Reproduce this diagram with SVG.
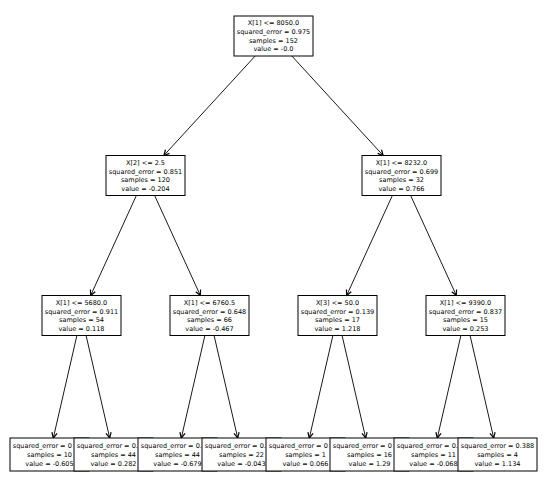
<svg xmlns="http://www.w3.org/2000/svg" width="550" height="477" viewBox="0 0 550 477">
<style>
.box{fill:#ffffff;stroke:#000000;stroke-width:1}
.t{font-family:"DejaVu Sans",sans-serif;font-size:6.5px;fill:#000000;text-anchor:middle}
.s{text-anchor:start}
.e{fill:none;stroke:#000000;stroke-width:0.9;marker-end:url(#ah)}
</style>
<defs>
<marker id="ah" markerUnits="userSpaceOnUse" markerWidth="8" markerHeight="8" viewBox="-5 -3 6 6" refX="0" refY="0" orient="auto">
<path d="M-4,-2 L0,0 L-4,2" fill="none" stroke="#000000" stroke-width="0.9"/>
</marker>
</defs>
<rect width="550" height="477" fill="#ffffff"/>
<g id="connectors">
<line class="e" x1="255.15" y1="56" x2="163.85" y2="155.5"/>
<line class="e" x1="291.85" y1="56" x2="383.15" y2="155.5"/>
<line class="e" x1="136.36" y1="195.5" x2="90.64" y2="295.5"/>
<line class="e" x1="154.64" y1="195.5" x2="200.36" y2="295.5"/>
<line class="e" x1="392.36" y1="195.5" x2="346.64" y2="295.5"/>
<line class="e" x1="410.64" y1="195.5" x2="456.36" y2="295.5"/>
<line class="e" x1="76.9" y1="335.5" x2="53.3" y2="438"/>
<line class="e" x1="86.1" y1="335.5" x2="109.7" y2="438"/>
<line class="e" x1="204.9" y1="335.5" x2="181.3" y2="438"/>
<line class="e" x1="214.1" y1="335.5" x2="237.7" y2="438"/>
<line class="e" x1="332.9" y1="335.5" x2="309.3" y2="438"/>
<line class="e" x1="342.1" y1="335.5" x2="365.7" y2="438"/>
<line class="e" x1="460.9" y1="335.5" x2="437.3" y2="438"/>
<line class="e" x1="470.1" y1="335.5" x2="493.7" y2="438"/>
</g>
<g id="n0">
<rect class="box" x="234" y="16" width="79" height="40"/>
<text class="t" x="273.5" y="25.3">X[1] &lt;= 8050.0</text>
<text class="t" x="273.5" y="34">squared_error = 0.975</text>
<text class="t" x="273.5" y="42.7">samples = 152</text>
<text class="t" x="273.5" y="51.4">value = -0.0</text>
</g>
<g id="n1">
<rect class="box" x="106" y="155.5" width="79" height="40"/>
<text class="t" x="145.5" y="164.8">X[2] &lt;= 2.5</text>
<text class="t" x="145.5" y="173.5">squared_error = 0.851</text>
<text class="t" x="145.5" y="182.2">samples = 120</text>
<text class="t" x="145.5" y="190.9">value = -0.204</text>
</g>
<g id="n8">
<rect class="box" x="362" y="155.5" width="79" height="40"/>
<text class="t" x="401.5" y="164.8">X[1] &lt;= 8232.0</text>
<text class="t" x="401.5" y="173.5">squared_error = 0.699</text>
<text class="t" x="401.5" y="182.2">samples = 32</text>
<text class="t" x="401.5" y="190.9">value = 0.766</text>
</g>
<g id="n2">
<rect class="box" x="42" y="295.5" width="79" height="40"/>
<text class="t" x="81.5" y="304.8">X[1] &lt;= 5680.0</text>
<text class="t" x="81.5" y="313.5">squared_error = 0.911</text>
<text class="t" x="81.5" y="322.2">samples = 54</text>
<text class="t" x="81.5" y="330.9">value = 0.118</text>
</g>
<g id="n5">
<rect class="box" x="170" y="295.5" width="79" height="40"/>
<text class="t" x="209.5" y="304.8">X[1] &lt;= 6760.5</text>
<text class="t" x="209.5" y="313.5">squared_error = 0.648</text>
<text class="t" x="209.5" y="322.2">samples = 66</text>
<text class="t" x="209.5" y="330.9">value = -0.467</text>
</g>
<g id="n9">
<rect class="box" x="298" y="295.5" width="79" height="40"/>
<text class="t" x="337.5" y="304.8">X[3] &lt;= 50.0</text>
<text class="t" x="337.5" y="313.5">squared_error = 0.139</text>
<text class="t" x="337.5" y="322.2">samples = 17</text>
<text class="t" x="337.5" y="330.9">value = 1.218</text>
</g>
<g id="n12">
<rect class="box" x="426" y="295.5" width="79" height="40"/>
<text class="t" x="465.5" y="304.8">X[1] &lt;= 9390.0</text>
<text class="t" x="465.5" y="313.5">squared_error = 0.837</text>
<text class="t" x="465.5" y="322.2">samples = 15</text>
<text class="t" x="465.5" y="330.9">value = 0.253</text>
</g>
<g id="n3">
<rect class="box" x="10" y="438" width="79" height="33"/>
<text class="t s" x="12.8" y="448.2">squared_error = 0</text>
<text class="t" x="49.5" y="456.9">samples = 10</text>
<text class="t" x="49.5" y="465.6">value = -0.605</text>
</g>
<g id="n4">
<rect class="box" x="74" y="438" width="79" height="33"/>
<text class="t s" x="76.8" y="448.2">squared_error = 0.</text>
<text class="t" x="113.5" y="456.9">samples = 44</text>
<text class="t" x="113.5" y="465.6">value = 0.282</text>
</g>
<g id="n6">
<rect class="box" x="138" y="438" width="79" height="33"/>
<text class="t s" x="140.8" y="448.2">squared_error = 0.6</text>
<text class="t" x="177.5" y="456.9">samples = 44</text>
<text class="t" x="177.5" y="465.6">value = -0.679</text>
</g>
<g id="n7">
<rect class="box" x="202" y="438" width="79" height="33"/>
<text class="t s" x="204.8" y="448.2">squared_error = 0.3</text>
<text class="t" x="241.5" y="456.9">samples = 22</text>
<text class="t" x="241.5" y="465.6">value = -0.043</text>
</g>
<g id="n10">
<rect class="box" x="266" y="438" width="79" height="33"/>
<text class="t s" x="268.8" y="448.2">squared_error = 0</text>
<text class="t" x="305.5" y="456.9">samples = 1</text>
<text class="t" x="305.5" y="465.6">value = 0.066</text>
</g>
<g id="n11">
<rect class="box" x="330" y="438" width="79" height="33"/>
<text class="t s" x="332.8" y="448.2">squared_error = 0</text>
<text class="t" x="369.5" y="456.9">samples = 16</text>
<text class="t" x="369.5" y="465.6">value = 1.29</text>
</g>
<g id="n13">
<rect class="box" x="394" y="438" width="79" height="33"/>
<text class="t s" x="396.8" y="448.2">squared_error = 0.</text>
<text class="t" x="433.5" y="456.9">samples = 11</text>
<text class="t" x="433.5" y="465.6">value = -0.068</text>
</g>
<g id="n14">
<rect class="box" x="458" y="438" width="79" height="33"/>
<text class="t" x="497.5" y="448.2">squared_error = 0.388</text>
<text class="t" x="497.5" y="456.9">samples = 4</text>
<text class="t" x="497.5" y="465.6">value = 1.134</text>
</g>
</svg>
